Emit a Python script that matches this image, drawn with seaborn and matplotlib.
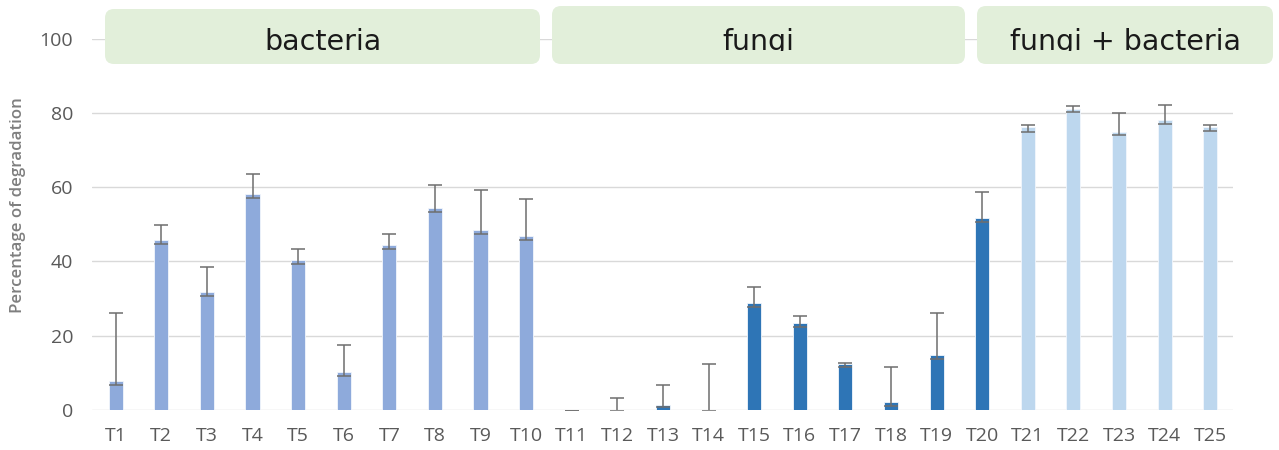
import matplotlib
matplotlib.use("Agg")
import matplotlib.pyplot as plt
from matplotlib.patches import FancyBboxPatch, Rectangle
from matplotlib.transforms import IdentityTransform
import seaborn as sns
import pandas as pd
import numpy as np

# ---- data ----
treatments = [f"T{i}" for i in range(1, 26)]
groups = ["bacteria"] * 10 + ["fungi"] * 10 + ["fungi + bacteria"] * 5
values = [7.8, 45.8, 31.8, 58.1, 40.4, 10.2, 44.5, 54.3, 48.4, 46.8,
          -0.3, -0.2, 1.3, -0.2, 28.7, 23.5, 12.5, 2.2, 14.8, 51.8,
          76.1, 80.9, 74.7, 78.1, 76.3]
err_up = [18.3, 4.1, 6.7, 5.4, 3.0, 7.4, 2.9, 6.2, 10.8, 9.9,
          0.0, 3.4, 5.4, 12.5, 4.3, 1.8, 0.2, 9.4, 11.3, 6.8,
          0.6, 0.8, 5.2, 3.9, 0.4]
err_low = [1.1] * 10 + [0.0, 0.0, 0.6, 0.0, 1.1, 1.1, 1.0, 1.0, 1.1, 1.1] + [1.2, 0.6, 0.6, 1.0, 1.1]
group_names = ["bacteria", "fungi", "fungi + bacteria"]
group_colors = ["#8EAADB", "#2E75B6", "#BDD7EE"]
yticks = [0, 20, 40, 60, 80, 100]
ylabel = "Percentage of degradation"

df = pd.DataFrame({"treatment": treatments, "group": groups, "value": values})

sns.set_theme(style="white")
plt.rcParams['font.family'] = ['Open Sans', 'DejaVu Sans']

W, H = 1279, 450
fig = plt.figure(figsize=(W / 100, H / 100), dpi=100)
ax = fig.add_axes([92 / W, (H - 410) / H, (1233 - 92) / W, (410 - 38.5) / H])

sns.barplot(data=df, x="treatment", y="value", hue="group", dodge=False,
            palette=dict(zip(group_names, group_colors)), width=0.31, saturation=1,
            edgecolor="#F2F6FC", linewidth=0.6, ax=ax, legend=False, zorder=3)

xs = np.arange(len(treatments))
ax.errorbar(xs, values, yerr=[err_low, err_up], fmt="none", ecolor="#6E6E6E",
            elinewidth=1.1, capsize=5, capthick=1.1, zorder=4)

ax.set_xlim(-0.52, len(treatments) - 0.5)
ax.set_ylim(0, 100)
ax.set_yticks(yticks)
ax.set_yticklabels([str(t) for t in yticks])
for t in yticks:
    ax.axhline(t, color="#D9D9D9", lw=1.0, zorder=0)
ax.grid(False)
for s in ax.spines.values():
    s.set_visible(False)
ax.tick_params(axis="both", length=0, labelsize=14, colors="#595959")
ax.tick_params(axis="x", pad=12)
ax.tick_params(axis="y", pad=13.5)
ax.set_xlabel("")
ax.set_ylabel("")
fig.text(18 / W, (H - 205) / H, ylabel, rotation=90, ha="center", va="center",
         fontsize=12.2, fontweight="semibold", color="#7F7F7F")

# ---- group header boxes (pixel layout) ----
boxes = [(105, 540, 9, 64), (552, 965, 6, 64), (977, 1273, 6, 64)]
for (x0, x1, y0, y1), name in zip(boxes, group_names):
    box = FancyBboxPatch((x0, H - y1), x1 - x0, y1 - y0,
                         boxstyle="round,pad=0,rounding_size=9", transform=IdentityTransform(),
                         facecolor="#E2EFDA", edgecolor="none", zorder=5)
    fig.patches.append(box)
    txt = fig.text((x0 + x1) / 2 / W, (H - 50.5) / H, name, ha="center", va="baseline",
                   fontsize=20.5, color="#1A1A1A", family=["DejaVu Sans"], zorder=6)
    clip = Rectangle((x0, H - 51), x1 - x0, 60, transform=IdentityTransform())
    txt.set_clip_path(clip)

fig.savefig("out.png", dpi=100)
